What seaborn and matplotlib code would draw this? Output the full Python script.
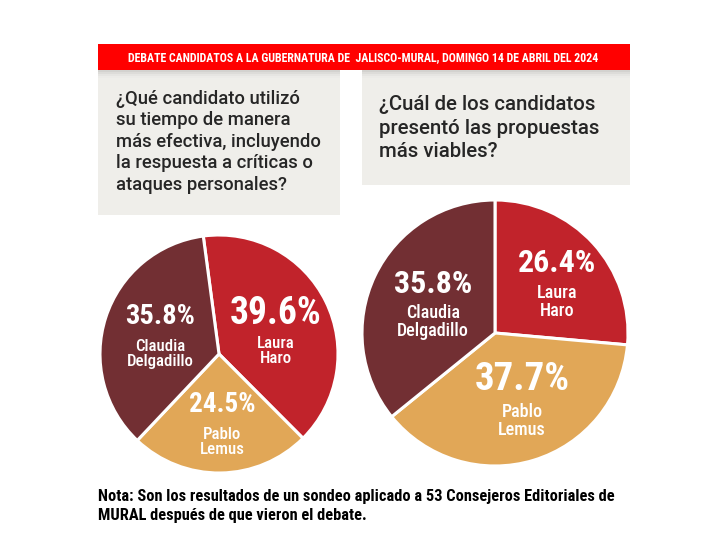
import matplotlib
matplotlib.use("Agg")
import matplotlib.pyplot as plt
import seaborn as sns
from matplotlib.patches import Rectangle

sns.set_theme(style="white")
plt.rcParams['font.family'] = ['DejaVu Sans']

# ---- data ----
candidates = ["Laura\nHaro", "Pablo\nLemus", "Claudia\nDelgadillo"]
q1_values = [39.6, 24.5, 35.8]
q2_values = [26.4, 37.7, 35.8]
colors = ["#c1232b", "#e1a757", "#722f33"]
header = "DEBATE CANDIDATOS A LA GUBERNATURA DE  JALISCO-MURAL, DOMINGO 14 DE ABRIL DEL 2024"
q1_text = "¿Qué candidato utilizó\nsu tiempo de manera\nmás efectiva, incluyendo\nla respuesta a críticas o\nataques personales?"
q2_text = "¿Cuál de los candidatos\npresentó las propuestas\nmás viables?"
note = ("Nota: Son los resultados de un sondeo aplicado a 53 Consejeros Editoriales de\n"
        "MURAL después de que vieron el debate.")

W, H = 720, 540
fig = plt.figure(figsize=(7.2, 5.4), dpi=100)
fig.patch.set_facecolor("white")

def fx(x):
    return x / W

def fy(y):
    return 1 - y / H

def rect(x0, y0, x1, y1, color, z=1):
    fig.patches.append(Rectangle((fx(x0), fy(y1)), fx(x1) - fx(x0), fy(y0) - fy(y1),
                                 transform=fig.transFigure, color=color, zorder=z, lw=0))

COND = ["Roboto Condensed", "IBM Plex Sans Condensed", "DejaVu Sans"]

# header bar + question boxes
rect(98, 72, 340, 215, "#efeeea")
rect(362, 72, 630, 185, "#efeeea")
for i, c in enumerate(["#d3d2cf", "#dddcd9", "#e6e5e2", "#ecebe8"]):
    rect(98, 70 + i * 2, 340, 72 + i * 2, c, 2)
    rect(362, 70 + i * 2, 630, 72 + i * 2, c, 2)
rect(98, 44, 630, 70, "#ff0000", 3)
fig.text(fx(363), fy(57.5), header, color="white", fontsize=8.6, family=COND,
         fontweight="bold", ha="center", va="center", zorder=4)

qfont = dict(family=["Roboto", "DejaVu Sans"], color="#262626", fontweight="medium",
             ha="left", va="top", zorder=4)
fig.text(fx(116), fy(89.5), q1_text, fontsize=13.3, linespacing=1.26, **qfont)
fig.text(fx(379), fy(95), q2_text, fontsize=14.65, linespacing=1.31, **qfont)

# pies
def make_pie(cx, cy, r, values, start):
    pad = 1.05
    ax = fig.add_axes([fx(cx - r * pad), fy(cy + r * pad), 2 * r * pad / W, 2 * r * pad / H])
    ax.pie(values, colors=colors, startangle=start, counterclock=False, radius=1,
           wedgeprops=dict(edgecolor="white", linewidth=2.2))
    ax.set_xlim(-pad, pad)
    ax.set_ylim(-pad, pad)
    ax.set_aspect("equal")
    ax.axis("off")
    return ax

make_pie(219, 354, 119, q1_values, 97.6)
make_pie(495, 333, 133, q2_values, 90)

# labels: (x, pct_y, name_y, pct_size, name_size)
layout1 = [(276, 314, 351, 27, 12.2), (222, 405, 442, 19.5, 12.2), (160, 317, 354, 20.5, 12.2)]
layout2 = [(557, 263, 302, 23, 13), (522, 380, 421, 28, 13), (433, 284, 322, 23, 13)]
lfont = dict(family=COND, color="white", ha="center", va="center", zorder=5)

for values, layout in [(q1_values, layout1), (q2_values, layout2)]:
    for v, name, (x, py, ny, ps, ns) in zip(values, candidates, layout):
        fig.text(fx(x), fy(py), f"{v:.1f}%", fontsize=ps, fontweight="bold", **lfont)
        fig.text(fx(x), fy(ny), name, fontsize=ns, fontweight="medium",
                 linespacing=1.05, **lfont)

fig.text(fx(98), fy(506), note, color="black", fontsize=11.75, fontweight="bold",
         family=COND, ha="left", va="center", linespacing=1.3)

fig.savefig("out.png", dpi=100, facecolor="white")
